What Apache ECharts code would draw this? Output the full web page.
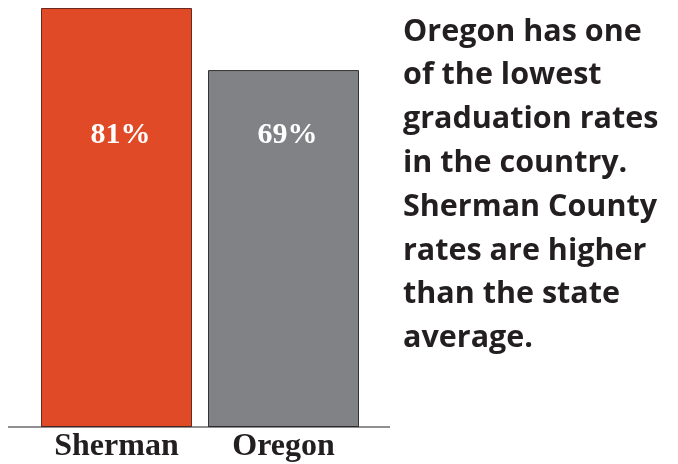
<!DOCTYPE html>
<html><head><meta charset="utf-8">
<script src="https://cdn.jsdelivr.net/npm/echarts@6/dist/echarts.min.js"></script>
<style>html,body{margin:0;padding:0;background:#fff}#c{width:678px;height:464px}</style>
</head><body><div id="c"></div>
<script>
var categories = ['Sherman', 'Oregon'];
var rates = [81, 69];
var barColors = ['#E04A27', '#818285'];
var borderColors = ['#6b2a20', '#333333'];
var noteLines = ['Oregon has one', 'of the lowest', 'graduation rates', 'in the country.', 'Sherman County', 'rates are higher', 'than the state', 'average.'];

var chart = echarts.init(document.getElementById('c'));
chart.setOption({
  animation: false,
  title: {
    text: noteLines.join('\n'),
    left: 398, top: 5,
    textStyle: {fontFamily: 'Open Sans', fontWeight: 'bold', fontSize: 30.5, lineHeight: 43.8, color: '#231f20'}
  },
  grid: {left: 33, right: 311, top: 8, bottom: 37},
  xAxis: {
    type: 'category', data: categories,
    axisLine: {show: false}, axisTick: {show: false},
    axisLabel: {margin: 4, fontFamily: 'Liberation Serif', fontWeight: 'bold', fontSize: 32, color: '#231f20'}
  },
  yAxis: {type: 'value', min: 0, max: 81, show: false, splitLine: {show: false}},
  graphic: [{type: 'line', shape: {x1: 8, y1: 427, x2: 390, y2: 427}, style: {stroke: '#231f20', lineWidth: 1}, z: 10}],
  series: [{
    type: 'bar', barWidth: 151,
    data: rates.map(function (v, i) {
      return {value: v, itemStyle: {color: barColors[i], borderColor: borderColors[i], borderWidth: 1}};
    }),
    label: {show: true, position: 'insideBottom', distance: 277, offset: [4, 0], formatter: '{c}%',
      fontFamily: 'Liberation Serif', fontWeight: 'bold', fontSize: 30, color: '#fff'}
  }]
});
</script></body></html>
